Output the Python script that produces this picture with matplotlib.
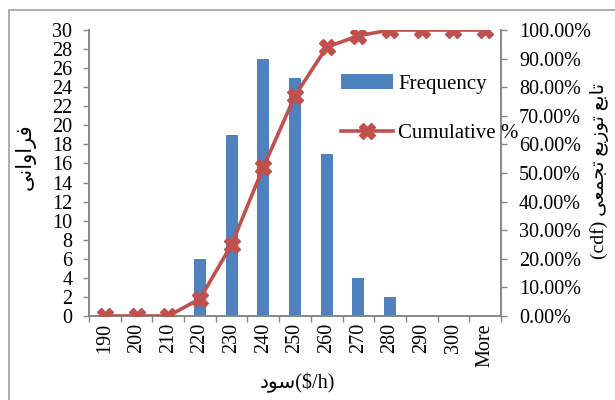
import matplotlib.pyplot as plt
from matplotlib.patches import Rectangle
from matplotlib.ticker import PercentFormatter

bins = ["190", "200", "210", "220", "230", "240", "250", "260", "270", "280", "290", "300", "More"]
frequency = [0, 0, 0, 6, 19, 27, 25, 17, 4, 2, 0, 0, 0]
cumulative = [0.0, 0.0, 0.0, 0.06, 0.25, 0.52, 0.77, 0.94, 0.98, 1.0, 1.0, 1.0, 1.0]

# Persian labels, pre-shaped in visual (left to right) order
ylabel_left = "\uFBFD\uFEE7\uFE8D\uFEED\uFE8D\uFEAE\uFED3"  # فراوانی
ylabel_right = ("(cdf) " + "\uFBFD\uFECC\uFEE4\uFEA0\uFE97" + " "
                + "\uFECA\uFBFE\uFEAF\uFEEE\uFE97" + " "
                + "\uFECA\uFE91\uFE8E\uFE97")  # تابع توزیع تجمعی (cdf)
xlabel = "\uFEA9\uFEEE\uFEB3" + "($/h)"  # سود($/h)

fonts = ["Liberation Serif", "DejaVu Sans"]
plt.rcParams["font.family"] = fonts
plt.rcParams["font.size"] = 14.5

blue = "#4F81BD"
red = "#C0504D"
grey = "#868686"

fig = plt.figure(figsize=(6.15, 4), dpi=100)
fig.patches.append(Rectangle((9 / 615, -0.1), 1.2, 1 - 10 / 400 + 0.1, transform=fig.transFigure,
                             fill=False, edgecolor="#A0A0A0", linewidth=1.2))

ax = fig.add_axes([89 / 615, 1 - 316 / 400, 412 / 615, 286 / 400])
x = list(range(len(bins)))
ax.bar(x, frequency, width=0.38, color=blue, label="Frequency", zorder=2)
ax.set_xlim(-0.5, len(bins) - 0.5)
ax.set_ylim(0, 30)
ax.set_yticks(range(0, 31, 2))
ax.set_xticks(x)
ax.set_xticklabels(bins, rotation=90)
ax.set_xticks([i - 0.5 for i in range(len(bins) + 1)], minor=True)
ax.tick_params(axis="x", which="major", length=0, pad=5)
ax.tick_params(axis="x", which="minor", length=4, color=grey, width=1)
ax.tick_params(axis="y", length=4, color=grey, width=1, pad=8)
for side in ["left", "bottom", "right"]:
    ax.spines[side].set_color(grey)
    ax.spines[side].set_linewidth(1.2)
ax.spines["top"].set_visible(False)
ax.set_ylabel(ylabel_left, fontsize=15)
ax.yaxis.set_label_coords(-0.155, 0.556)
ax.yaxis.label.set_va("center")
ax.set_xlabel(xlabel, fontsize=14.5)
ax.xaxis.set_label_coords(0.505, -0.234)
ax.xaxis.label.set_va("center")

ax2 = ax.twinx()
ax2.plot(x, cumulative, color=red, linewidth=2.6, marker="X", markersize=11,
         markeredgecolor=red, label="Cumulative %", zorder=3)
ax2.set_ylim(0, 1)
ax2.set_yticks([i / 10 for i in range(11)])
ax2.yaxis.set_major_formatter(PercentFormatter(1.0, decimals=2))
ax2.tick_params(axis="y", length=4, color=grey, width=1, pad=9)
for side in ["left", "bottom", "right"]:
    ax2.spines[side].set_color(grey)
    ax2.spines[side].set_linewidth(1.2)
ax2.spines["top"].set_visible(False)
ax2.set_ylabel(ylabel_right, fontsize=14)
ax2.yaxis.set_label_coords(1.24, 0.507)
ax2.yaxis.label.set_va("center")

h1, l1 = ax.get_legend_handles_labels()
h2, l2 = ax2.get_legend_handles_labels()
fig.legend(h1 + h2, l1 + l2, loc="upper left", bbox_to_anchor=(341 / 615, 1 - 74 / 400),
           frameon=False, handlelength=2.5, handletextpad=0.25, labelspacing=1.45,
           borderpad=0, borderaxespad=0, fontsize=15)

plt.savefig("out.png", dpi=100)
